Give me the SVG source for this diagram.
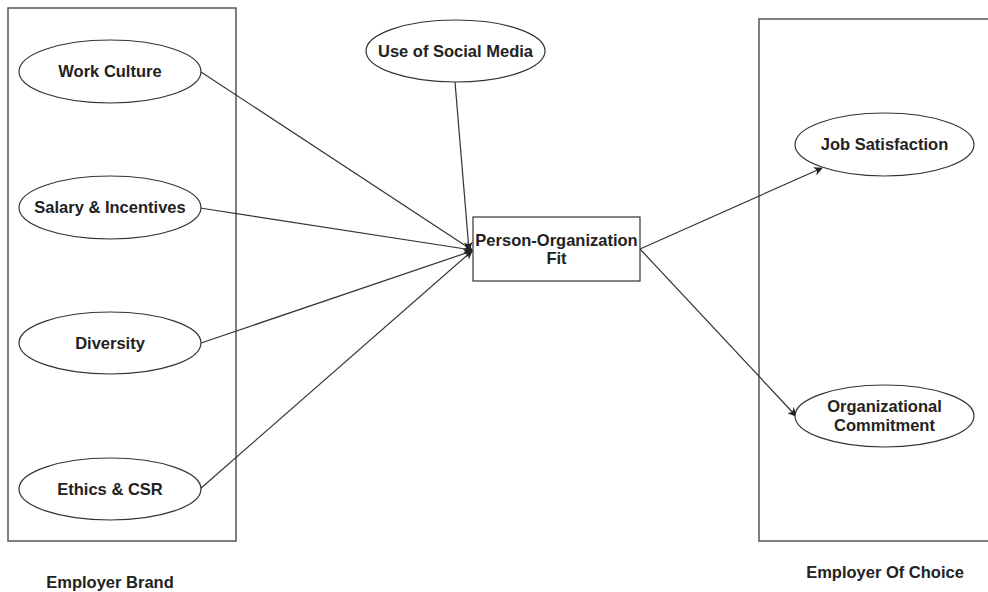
<svg xmlns="http://www.w3.org/2000/svg" width="988" height="592" viewBox="0 0 988 592">
<style>
.cont{fill:none;stroke:#555;stroke-width:1.5}
.node{fill:#fff;stroke:#333;stroke-width:1.2}
.lbl{font-family:"Liberation Sans",Arial,sans-serif;font-weight:bold;font-size:16.5px;fill:#222;text-anchor:middle}
.edge{fill:none;stroke:#333;stroke-width:1.2;marker-end:url(#arr)}
</style>
<defs>
<marker id="arr" viewBox="0 0 10 10" refX="9" refY="5" markerWidth="9" markerHeight="9" markerUnits="userSpaceOnUse" orient="auto">
<path d="M0,0 L10,5 L0,10 L3,5 Z" fill="#222"/>
</marker>
</defs>
<rect width="988" height="592" fill="#fff"/>
<g id="employer-brand">
<rect class="cont" x="8" y="8" width="228" height="533"/>
<text class="lbl" x="110" y="588">Employer Brand</text>
</g>
<g id="employer-of-choice">
<rect class="cont" x="759" y="19" width="240" height="522"/>
<text class="lbl" x="885" y="578">Employer Of Choice</text>
</g>
<g id="connectors">
<line class="edge" x1="201" y1="72" x2="472" y2="250"/>
<line class="edge" x1="200" y1="208" x2="472" y2="250"/>
<line class="edge" x1="201" y1="343" x2="472" y2="251"/>
<line class="edge" x1="200" y1="489" x2="472" y2="251"/>
<line class="edge" x1="455" y1="82" x2="469" y2="250"/>
<line class="edge" x1="640" y1="249" x2="822" y2="168"/>
<line class="edge" x1="640" y1="249" x2="796" y2="416"/>
</g>
<g id="work-culture">
<ellipse class="node" cx="110" cy="71.5" rx="91" ry="31.5"/>
<text class="lbl" x="110" y="77">Work Culture</text>
</g>
<g id="salary-incentives">
<ellipse class="node" cx="110" cy="207.5" rx="91" ry="31.5"/>
<text class="lbl" x="110" y="213">Salary &amp; Incentives</text>
</g>
<g id="diversity">
<ellipse class="node" cx="110" cy="343" rx="91" ry="31"/>
<text class="lbl" x="110" y="349">Diversity</text>
</g>
<g id="ethics-csr">
<ellipse class="node" cx="110" cy="489" rx="91" ry="31"/>
<text class="lbl" x="110" y="495">Ethics &amp; CSR</text>
</g>
<g id="social-media">
<ellipse class="node" cx="455.5" cy="51" rx="89.5" ry="31"/>
<text class="lbl" x="455.5" y="57">Use of Social Media</text>
</g>
<g id="person-org-fit">
<rect class="node" x="473" y="217" width="167" height="64"/>
<text class="lbl" x="556.5" y="246">Person-Organization</text>
<text class="lbl" x="556.5" y="264">Fit</text>
</g>
<g id="job-satisfaction">
<ellipse class="node" cx="884.5" cy="144.5" rx="89.5" ry="31.5"/>
<text class="lbl" x="884.5" y="150">Job Satisfaction</text>
</g>
<g id="org-commitment">
<ellipse class="node" cx="884.5" cy="416" rx="89.5" ry="31"/>
<text class="lbl" x="884.5" y="412">Organizational</text>
<text class="lbl" x="884.5" y="431">Commitment</text>
</g>
</svg>
